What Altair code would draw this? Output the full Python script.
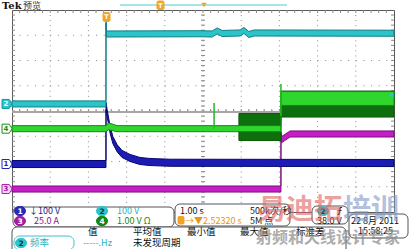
import altair as alt
import pandas as pd

W, H = 382, 202          # graticule: 10 x 8 divisions
OX, OY = 12, 10          # graticule origin on the page
FONT = "Noto Sans CJK SC"

# ---------------- waveform data (time, level in divisions) ----------------
ch2_t = [0.0, 2.46, 2.461, 2.47, 4.92, 5.24, 5.37, 5.50, 5.97, 6.07, 6.20, 6.34, 10.0]
ch2_v = [0.28, 0.28, 3.60, 3.05, 3.06, 3.05, 3.17, 3.07, 3.09, 3.19, 3.03, 3.09, 3.08]

ch1_t = [0.0, 2.46, 2.461, 2.49, 2.57, 2.64, 2.75, 2.88, 3.09, 3.35, 3.61, 4.14, 10.0]
ch1_v = [-2.10, -2.10, 0.20, -0.08, -0.75, -1.15, -1.47, -1.70, -1.86, -1.98, -2.02, -2.05, -2.06]

ch3_t = [0.0, 7.04, 7.041, 7.06, 7.28, 10.0]
ch3_v = [-3.09, -3.09, -0.95, -1.13, -0.91, -0.91]

g_core_t = [0.0, 2.46, 2.53, 2.75, 7.04, 7.041, 10.0]
g_core_hi = [-0.58, -0.58, -0.47, -0.58, -0.58, 0.77, 0.77]
g_core_lo = [-0.82, -0.82, -0.74, -0.82, -0.82, 0.22, 0.22]

g_env_t = [5.94, 7.04, 7.041, 10.0]
g_env_hi = [-0.10, -0.10, 0.79, 0.79]
g_env_lo = [-1.17, -1.17, -0.24, -0.24]

spike_t = [5.29, 7.04]
spike_lo = [-0.70, -0.20]
spike_hi = [0.32, 1.07]

ref_level = -0.04        # grey reference line
trig_level = 0.63        # trigger level marker (right edge)

marker_ch = ["2", "4", "1", "3"]
marker_v = [0.28, -0.70, -2.10, -3.09]
marker_fill = ["#2ec4cc", "#ffffff", "#ffffff", "#f4d4f4"]
marker_stroke = ["#16949c", "#159015", "#2424b0", "#b020b0"]
marker_text = ["#ffffff", "#159015", "#2424b0", "#a020a0"]

xs = alt.Scale(domain=[0, 10], nice=False, zero=False)
ys = alt.Scale(domain=[-4, 4], nice=False, zero=False)
one = pd.DataFrame({"k": [0]})

layers = []

# ---------------- graticule ----------------
vg = pd.DataFrame({"t": [1, 2, 3, 4, 5, 6, 7, 8, 9]})
hg = pd.DataFrame({"v": [-3, -2, -1, 0, 1, 2, 3]})
layers.append(alt.Chart(vg).mark_rule(color="#8a8a8a", strokeWidth=1, strokeDash=[1, 4.05]).encode(
    x=alt.X("t:Q", scale=xs, axis=None), y=alt.value(0), y2=alt.value(H)))
layers.append(alt.Chart(hg).mark_rule(color="#8a8a8a", strokeWidth=1, strokeDash=[1, 6.64]).encode(
    y=alt.Y("v:Q", scale=ys, axis=None), x=alt.value(0), x2=alt.value(W)))
tx = pd.DataFrame({"t": [i * 0.2 for i in range(1, 50)]})
ty = pd.DataFrame({"v": [-4 + i * 0.2 for i in range(1, 40)]})
for y0, y1 in [(0, 3), (H / 2 - 2, H / 2 + 2)]:
    layers.append(alt.Chart(tx).mark_rule(color="#8a8a8a", strokeWidth=1).encode(
        x=alt.X("t:Q", scale=xs, axis=None), y=alt.value(y0), y2=alt.value(y1)))
for x0, x1 in [(0, 3), (W - 3, W), (W / 2 - 2, W / 2 + 2)]:
    layers.append(alt.Chart(ty).mark_rule(color="#8a8a8a", strokeWidth=1).encode(
        y=alt.Y("v:Q", scale=ys, axis=None), x=alt.value(x0), x2=alt.value(x1)))

layers.append(alt.Chart(pd.DataFrame({"v": [ref_level]})).mark_rule(color="#a6a6a6", strokeWidth=2).encode(
    y=alt.Y("v:Q", scale=ys, axis=None), x=alt.value(0), x2=alt.value(W)))


def band(t, hi, lo, fill, stroke, sw=1.0):
    df = pd.DataFrame({"t": t, "hi": hi, "lo": lo})
    return alt.Chart(df).mark_area(fill=fill, stroke=stroke, strokeWidth=sw, opacity=1).encode(
        x=alt.X("t:Q", scale=xs, axis=None),
        y=alt.Y("hi:Q", scale=ys, axis=None), y2="lo:Q")


def trace(t, v, half, fill, stroke):
    return band(t, [a + half for a in v], [a - half for a in v], fill, stroke)


# ---------------- traces ----------------
layers.append(trace(ch3_t, ch3_v, 0.12, "#c41fc4", "#7c0f7c"))
layers.append(trace(ch1_t, ch1_v, 0.14, "#1c1cb4", "#06066e"))
layers.append(band(g_env_t, g_env_hi, g_env_lo, "#0d6f0d", "#0a5a0a"))
layers.append(band(g_core_t, g_core_hi, g_core_lo, "#2ed62e", "#118a11"))
layers.append(alt.Chart(pd.DataFrame({"t": spike_t, "lo": spike_lo, "hi": spike_hi})).mark_rule(
    color="#22b822", strokeWidth=1.5).encode(
    x=alt.X("t:Q", scale=xs, axis=None), y=alt.Y("hi:Q", scale=ys, axis=None), y2="lo:Q"))
layers.append(trace(ch2_t, ch2_v, 0.12, "#2cc3c9", "#0e7f86"))

# ---------------- channel markers ----------------
pent = "M-1,-0.9 L0.45,-0.9 L1,0 L0.45,0.9 L-1,0.9 Z"
mk = pd.DataFrame({"v": marker_v, "ch": marker_ch, "f": marker_fill, "s": marker_stroke, "c": marker_text})
layers.append(alt.Chart(mk).mark_point(shape=pent, size=100, filled=True, strokeWidth=1, opacity=1).encode(
    x=alt.value(-5), y=alt.Y("v:Q", scale=ys, axis=None),
    fill=alt.Fill("f:N", scale=None), stroke=alt.Stroke("s:N", scale=None)))
layers.append(alt.Chart(mk).mark_text(font="DejaVu Sans", fontSize=7, fontWeight="bold").encode(
    x=alt.value(-6), y=alt.Y("v:Q", scale=ys, axis=None), text="ch:N",
    color=alt.Color("c:N", scale=None)))
layers.append(alt.Chart(pd.DataFrame({"v": [trig_level]})).mark_point(
    shape="triangle-left", size=28, filled=True, color="#2ec4cc", opacity=1).encode(
    x=alt.value(W - 3), y=alt.Y("v:Q", scale=ys, axis=None)))


# ---------------- helpers for the readout ----------------
def text(s, px, py, color="#111111", size=9, weight="normal", align="left", opacity=1.0, font=FONT):
    return alt.Chart(one).mark_text(text=s, font=font, fontSize=size, fontWeight=weight, color=color,
                                    align=align, baseline="middle", opacity=opacity).encode(
        x=alt.value(px - OX), y=alt.value(py - OY))


def box(x0, y0, x1, y1, fill="#ffffff", stroke="#555555", r=5, sw=1, fo=1.0):
    return alt.Chart(one).mark_rect(fill=fill, stroke=stroke, strokeWidth=sw, cornerRadius=r,
                                    fillOpacity=fo).encode(
        x=alt.value(x0 - OX), x2=alt.value(x1 - OX), y=alt.value(y0 - OY), y2=alt.value(y1 - OY))


def badge(label, cx, cy, fill, tcolor):
    return [box(cx - 5.5, cy - 4.5, cx + 5.5, cy + 4.5, fill=fill, stroke=fill, r=4.5),
            text(label, cx, cy + 0.5, color=tcolor, size=7.5, weight="bold", align="center", font="DejaVu Sans")]


# top bar
layers.append(text("Tek", 2, 5.5, color="#111111", size=10, weight="bold", font="DejaVu Serif"))
layers.append(text("预览", 23, 5.5, color="#333333", size=9))
layers.append(alt.Chart(one).mark_rule(color="#49cbd8", strokeWidth=1).encode(
    x=alt.value(120 - OX), x2=alt.value(287 - OX), y=alt.value(5 - OY)))
layers.append(box(157, 1, 164, 9.5, fill="#f2a428", stroke="#f2a428", r=1.5))
layers.append(text("T", 160.5, 5.5, color="#ffffff", size=6.5, weight="bold", align="center", font="DejaVu Sans"))
layers.append(alt.Chart(one).mark_point(shape="triangle-down", size=30, filled=True, color="#f2a428", opacity=1).encode(
    x=alt.value(204 - OX), y=alt.value(5 - OY)))
layers.append(box(103, 12.5, 110, 21.5, fill="#f2a428", stroke="#f2a428", r=1.5))
layers.append(text("T", 106.5, 17.2, color="#ffffff", size=6.5, weight="bold", align="center", font="DejaVu Sans"))

# readout boxes
layers.append(box(13, 207, 174, 227))
layers.append(box(175, 204, 290, 226))
layers.append(box(312, 206, 348, 224))
layers.append(box(349, 214, 408, 238))
layers.append(box(12, 227, 346, 254))
layers.append(box(14, 236, 74, 250, fill="#ffffff", stroke="#3cc0cc", r=6))

layers += badge("1", 20, 211, "#2a2ab8", "#ffffff")
layers += badge("3", 20, 221, "#a020a0", "#ffffff")
layers += badge("2", 102, 211, "#2ec4cc", "#0a3a3a")
layers += badge("4", 102, 221, "#118811", "#ffffff")
layers += badge("2", 323, 211, "#2ec4cc", "#0a3a3a")
layers += badge("2", 21, 243, "#2ec4cc", "#0a3a3a")

layers.append(text("↓100 V", 29, 211, color="#1a1a90"))
layers.append(text("25.0 A", 34, 221, color="#8a108a"))
layers.append(text("100 V", 117, 211, color="#1fb4c2"))
layers.append(text("1.00 V  Ω", 117, 221, color="#118811"))
layers.append(text("1.00 s", 180, 211))
layers.append(text("500k次/秒", 250, 211))
layers.append(box(178, 216.5, 184, 224, fill="#f2a428", stroke="#f2a428", r=1))
layers.append(text("→▼2.52320 s", 185, 220.5, color="#e8951a"))
layers.append(text("5M 点", 250, 220.5))
layers.append(text("ƒ", 337, 211, weight="bold"))
layers.append(text("38.0 V", 317, 220.5))
layers.append(text("22 8月 2011", 351, 221))
layers.append(text("15:58:25", 358, 231))

hdr_text = ["值", "平均值", "最小值", "最大值", "标准差"]
hdr_x = [88, 133, 187, 240, 296]
for s, px in zip(hdr_text, hdr_x):
    layers.append(text(s, px, 232, size=9.5))
layers.append(text("频率", 30, 243, color="#1fb4c2", size=9.5))
layers.append(text("-----.Hz", 83, 243, color="#1fb4c2", size=9))
layers.append(text("未发现周期", 133, 243, size=9.5))

# watermark
layers.append(text("易迪拓", 258, 211, color="#e06464", size=28, weight="bold", opacity=0.6))
layers.append(text("培训", 343, 211, color="#7f98c8", size=28, weight="bold", opacity=0.6))
layers.append(text("射频和天线设计专家", 256, 238, color="#8a8a8a", size=16, weight="bold", opacity=0.7))

chart = alt.layer(*layers).properties(
    width=W, height=H,
    padding={"left": OX, "top": OY, "right": 411 - OX - W, "bottom": 249 - OY - H},
    autosize="none",
    background="#ffffff",
).configure_view(stroke="#5a5a5a", strokeWidth=1)

chart.save("out.html", embed_options={"renderer": "svg", "actions": False})
